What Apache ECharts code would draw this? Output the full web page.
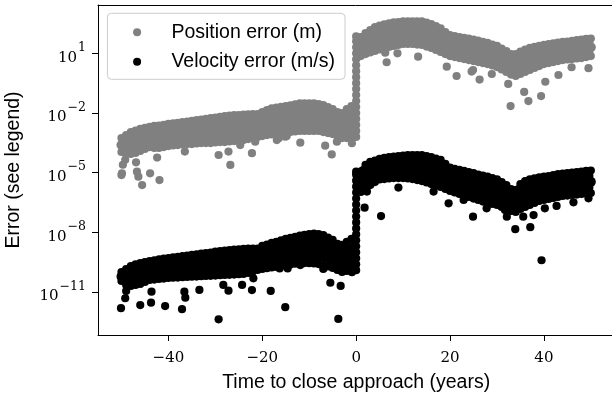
<!DOCTYPE html>
<html>
<head>
<meta charset="utf-8">
<script src="https://cdn.jsdelivr.net/npm/echarts@6.0.0/dist/echarts.min.js"></script>
<style>
html,body{margin:0;padding:0;background:#fff;}
#chart{width:612px;height:399px;}
</style>
</head>
<body>
<div id="chart"></div>
<script>
// Time sampling (years from close approach); values below are log10 of the error.
const tGrid = [], tGridMid = [];
for (let t = -50; t <= 50; t++) { if (t === 0) continue; tGrid.push(t); tGridMid.push(t < 0 ? t + 0.5 : t - 0.5); }

// Position error (m), log10, dense band layers (t = -50..-1, 1..50)
const posL0 = [-3.26,-3.11,-2.96,-2.88,-2.80,-2.75,-2.70,-2.65,-2.63,-2.59,-2.55,-2.52,-2.49,-2.46,-2.43,-2.40,-2.36,-2.33,-2.30,-2.26,-2.23,-2.19,-2.15,-2.13,-2.11,-2.10,-2.08,-2.07,-2.06,-2.05,-1.95,-1.85,-1.77,-1.73,-1.69,-1.65,-1.61,-1.56,-1.52,-1.51,-1.51,-1.52,-1.55,-1.60,-1.70,-1.80,-1.95,-2.00,-1.80,-1.65,
 1.82,2.02,2.17,2.32,2.39,2.45,2.50,2.55,2.57,2.60,2.60,2.61,2.60,2.60,2.54,2.47,2.37,2.25,2.07,1.92,1.87,1.82,1.78,1.74,1.69,1.64,1.58,1.52,1.44,1.37,1.24,1.11,0.96,0.96,1.09,1.18,1.27,1.32,1.37,1.42,1.46,1.50,1.54,1.57,1.59,1.62,1.66,1.69,1.72,1.74];
const posL1 = [-3.43,-3.35,-3.24,-3.16,-3.08,-3.02,-2.95,-2.93,-2.91,-2.87,-2.83,-2.80,-2.77,-2.74,-2.71,-2.69,-2.65,-2.63,-2.60,-2.57,-2.54,-2.51,-2.48,-2.46,-2.44,-2.42,-2.40,-2.38,-2.36,-2.34,-2.25,-2.17,-2.10,-2.06,-2.02,-1.98,-1.95,-1.90,-1.87,-1.86,-1.86,-1.87,-1.89,-1.94,-2.03,-2.12,-2.25,-2.32,-2.17,-2.04,
 1.58,1.76,1.89,2.02,2.09,2.15,2.20,2.25,2.28,2.32,2.32,2.32,2.31,2.30,2.24,2.17,2.07,1.95,1.79,1.66,1.61,1.56,1.51,1.47,1.42,1.37,1.31,1.26,1.18,1.11,0.98,0.85,0.70,0.69,0.81,0.90,0.99,1.06,1.12,1.18,1.22,1.27,1.31,1.34,1.37,1.39,1.43,1.46,1.49,1.52];
const posL2 = [-3.61,-3.59,-3.51,-3.45,-3.36,-3.28,-3.21,-3.21,-3.20,-3.15,-3.11,-3.08,-3.05,-3.02,-2.99,-2.98,-2.95,-2.92,-2.91,-2.89,-2.86,-2.82,-2.81,-2.78,-2.76,-2.74,-2.72,-2.69,-2.66,-2.63,-2.55,-2.48,-2.43,-2.40,-2.35,-2.32,-2.29,-2.25,-2.21,-2.20,-2.20,-2.21,-2.23,-2.28,-2.36,-2.43,-2.55,-2.63,-2.53,-2.43,
 1.34,1.49,1.60,1.72,1.79,1.86,1.91,1.96,2.00,2.03,2.03,2.04,2.02,2.01,1.94,1.87,1.77,1.66,1.52,1.39,1.34,1.29,1.25,1.20,1.15,1.10,1.05,0.99,0.92,0.84,0.72,0.59,0.45,0.41,0.53,0.62,0.72,0.79,0.87,0.94,0.99,1.03,1.08,1.12,1.14,1.17,1.20,1.23,1.27,1.30];
const posL3 = [-3.78,-3.82,-3.79,-3.73,-3.63,-3.55,-3.46,-3.48,-3.48,-3.43,-3.38,-3.35,-3.33,-3.30,-3.28,-3.27,-3.24,-3.22,-3.21,-3.20,-3.17,-3.14,-3.13,-3.11,-3.09,-3.06,-3.04,-3.00,-2.96,-2.92,-2.86,-2.80,-2.75,-2.73,-2.68,-2.65,-2.62,-2.59,-2.56,-2.55,-2.55,-2.56,-2.56,-2.62,-2.68,-2.75,-2.86,-2.95,-2.90,-2.82,
 1.10,1.23,1.32,1.42,1.49,1.56,1.61,1.66,1.71,1.75,1.75,1.75,1.73,1.71,1.64,1.57,1.47,1.36,1.24,1.13,1.08,1.03,0.98,0.93,0.88,0.83,0.78,0.73,0.65,0.58,0.45,0.32,0.19,0.14,0.24,0.34,0.44,0.53,0.61,0.70,0.75,0.80,0.84,0.89,0.92,0.94,0.97,0.99,1.04,1.08];
const posL4 = [-3.96,-4.06,-4.06,-4.01,-3.91,-3.81,-3.71,-3.76,-3.76,-3.71,-3.66,-3.63,-3.61,-3.58,-3.56,-3.56,-3.53,-3.51,-3.51,-3.51,-3.48,-3.46,-3.46,-3.43,-3.41,-3.38,-3.36,-3.31,-3.26,-3.21,-3.16,-3.11,-3.08,-3.06,-3.01,-2.98,-2.96,-2.93,-2.90,-2.90,-2.90,-2.90,-2.90,-2.96,-3.01,-3.06,-3.16,-3.26,-3.26,-3.21,
 0.86,0.96,1.04,1.12,1.19,1.27,1.32,1.37,1.42,1.47,1.47,1.47,1.44,1.42,1.34,1.27,1.17,1.07,0.96,0.86,0.81,0.76,0.71,0.66,0.61,0.56,0.51,0.46,0.39,0.31,0.19,0.06,-0.07,-0.14,-0.04,0.06,0.16,0.26,0.36,0.46,0.51,0.56,0.61,0.66,0.69,0.71,0.74,0.76,0.81,0.86];
// Position error at t = 0 (the jump)
const posWall = [-3.2,-2.9,-2.6,-2.3,-2.0,-1.7,-1.4,-1.1,-0.8,-0.5,-0.2,0.1,0.4,0.7,1.0,1.3,1.6,1.85];
// Position outliers
const posOutT = [-49.9,-46.7,-45.6,-43.9,-41.9,-46.9,-42.4,-29.3,-26.8,-27.2,-22.2,-11.9,-15.1,-16.9,-5.2,-6.6,-4.1,-0.9,6.5,6.2,8.8,13.2,21.4,26.3,28.9,24.9,32.4,32.9,35.8,36.7,39.4,40.3,43.1,49.5,-50.0,-46.4,-36.5,-24.7,-21.5,-16.5,-14.8,19.3,24.6,45.9,-49.7,-49.2];
const posOutE = [-5.03,-4.95,-5.62,-5.03,-5.37,-4.48,-4.24,-4.11,-4.61,-3.94,-4.02,-3.49,-3.19,-3.36,-4.08,-3.64,-3.44,-3.52,0.55,1.03,1.00,0.83,-0.14,-0.32,-0.04,0.16,-0.54,-1.65,-0.94,-1.40,-1.15,-0.43,-0.09,0.25,-5.12,-5.20,-3.94,-3.61,-3.44,-3.27,-3.16,0.33,0.08,0.30,-4.60,-4.35];

// Velocity error (m/s), log10, dense band layers
const velL0 = [-9.99,-9.84,-9.69,-9.61,-9.54,-9.49,-9.44,-9.40,-9.36,-9.32,-9.29,-9.26,-9.23,-9.19,-9.16,-9.13,-9.10,-9.07,-9.04,-9.01,-8.97,-8.94,-8.91,-8.89,-8.87,-8.85,-8.83,-8.82,-8.81,-8.81,-8.68,-8.61,-8.53,-8.47,-8.40,-8.33,-8.27,-8.22,-8.16,-8.12,-8.09,-8.06,-8.08,-8.13,-8.26,-8.38,-8.58,-8.63,-8.48,-8.33,
 -4.97,-4.61,-4.46,-4.39,-4.31,-4.26,-4.21,-4.19,-4.16,-4.14,-4.11,-4.11,-4.11,-4.11,-4.16,-4.21,-4.29,-4.36,-4.56,-4.74,-4.81,-4.86,-4.91,-4.97,-5.02,-5.09,-5.14,-5.19,-5.27,-5.34,-5.47,-5.62,-5.82,-5.87,-5.57,-5.42,-5.34,-5.29,-5.24,-5.19,-5.17,-5.12,-5.07,-5.04,-5.02,-4.99,-4.97,-4.94,-4.91,-4.89];
const velL1 = [-10.10,-10.04,-9.94,-9.87,-9.80,-9.74,-9.68,-9.64,-9.61,-9.57,-9.54,-9.51,-9.49,-9.46,-9.43,-9.41,-9.38,-9.35,-9.33,-9.30,-9.27,-9.24,-9.22,-9.20,-9.18,-9.16,-9.15,-9.13,-9.10,-9.08,-8.97,-8.91,-8.84,-8.79,-8.72,-8.66,-8.61,-8.56,-8.51,-8.48,-8.46,-8.44,-8.46,-8.51,-8.62,-8.73,-8.91,-8.97,-8.85,-8.72,
 -5.22,-4.91,-4.75,-4.66,-4.57,-4.53,-4.48,-4.46,-4.44,-4.42,-4.41,-4.41,-4.43,-4.44,-4.49,-4.55,-4.63,-4.70,-4.88,-5.04,-5.11,-5.16,-5.22,-5.28,-5.34,-5.41,-5.47,-5.52,-5.60,-5.66,-5.78,-5.92,-6.10,-6.15,-5.88,-5.75,-5.66,-5.60,-5.54,-5.49,-5.46,-5.41,-5.36,-5.32,-5.30,-5.27,-5.25,-5.22,-5.20,-5.17];
const velL2 = [-10.22,-10.24,-10.19,-10.13,-10.07,-9.99,-9.92,-9.89,-9.85,-9.82,-9.79,-9.77,-9.75,-9.72,-9.70,-9.68,-9.66,-9.64,-9.62,-9.60,-9.57,-9.55,-9.53,-9.51,-9.50,-9.48,-9.46,-9.43,-9.39,-9.35,-9.26,-9.20,-9.15,-9.11,-9.05,-8.99,-8.94,-8.90,-8.85,-8.83,-8.82,-8.81,-8.84,-8.89,-8.99,-9.09,-9.24,-9.31,-9.21,-9.11,
 -5.47,-5.22,-5.04,-4.93,-4.83,-4.79,-4.75,-4.73,-4.72,-4.71,-4.70,-4.72,-4.74,-4.77,-4.83,-4.89,-4.96,-5.04,-5.19,-5.33,-5.40,-5.47,-5.53,-5.60,-5.66,-5.73,-5.80,-5.86,-5.92,-5.98,-6.10,-6.22,-6.37,-6.42,-6.20,-6.07,-5.98,-5.91,-5.83,-5.78,-5.74,-5.69,-5.64,-5.61,-5.59,-5.56,-5.54,-5.51,-5.48,-5.46];
const velL3 = [-10.33,-10.44,-10.44,-10.38,-10.33,-10.24,-10.15,-10.13,-10.10,-10.07,-10.04,-10.02,-10.01,-9.99,-9.97,-9.96,-9.94,-9.92,-9.90,-9.89,-9.87,-9.85,-9.83,-9.82,-9.81,-9.79,-9.78,-9.74,-9.67,-9.62,-9.55,-9.50,-9.45,-9.42,-9.37,-9.32,-9.28,-9.23,-9.20,-9.19,-9.19,-9.19,-9.21,-9.26,-9.35,-9.44,-9.56,-9.65,-9.58,-9.50,
 -5.72,-5.52,-5.33,-5.20,-5.08,-5.06,-5.02,-5.00,-4.99,-4.99,-5.00,-5.02,-5.06,-5.09,-5.16,-5.23,-5.30,-5.38,-5.51,-5.63,-5.70,-5.77,-5.84,-5.91,-5.98,-6.05,-6.12,-6.19,-6.25,-6.30,-6.41,-6.52,-6.65,-6.70,-6.51,-6.40,-6.30,-6.21,-6.13,-6.08,-6.03,-5.98,-5.93,-5.89,-5.87,-5.84,-5.82,-5.79,-5.77,-5.74];
const velL4 = [-10.44,-10.64,-10.69,-10.64,-10.59,-10.49,-10.39,-10.37,-10.34,-10.32,-10.29,-10.28,-10.27,-10.25,-10.24,-10.23,-10.22,-10.20,-10.19,-10.18,-10.17,-10.15,-10.14,-10.13,-10.12,-10.10,-10.09,-10.04,-9.96,-9.89,-9.84,-9.80,-9.76,-9.74,-9.69,-9.65,-9.61,-9.57,-9.54,-9.54,-9.55,-9.56,-9.59,-9.64,-9.71,-9.79,-9.89,-9.99,-9.94,-9.89,
 -5.97,-5.82,-5.62,-5.47,-5.34,-5.32,-5.29,-5.27,-5.27,-5.27,-5.29,-5.32,-5.37,-5.42,-5.49,-5.57,-5.64,-5.72,-5.82,-5.92,-5.99,-6.07,-6.15,-6.22,-6.30,-6.37,-6.45,-6.52,-6.57,-6.62,-6.72,-6.82,-6.92,-6.97,-6.82,-6.72,-6.62,-6.52,-6.42,-6.37,-6.32,-6.27,-6.22,-6.17,-6.15,-6.12,-6.10,-6.07,-6.05,-6.02];
// Velocity error at t = 0 (the jump)
const velWall = [-9.9,-9.6,-9.3,-9.0,-8.7,-8.4,-8.1,-7.8,-7.5,-7.2,-6.9,-6.6,-6.3,-6.0,-5.7,-5.4,-5.1,-4.95];
// Velocity outliers
const velOutT = [-50.1,-49.2,-46.0,-43.7,-40.7,-37.1,-36.4,-33.4,-29.3,-28.3,-27.2,-24.3,-22.2,-18.2,-15.1,-16.3,-14.6,-3.8,-5.5,-3.3,-7.0,-0.9,1.8,5.3,39.5,24.9,33.9,37.1,37.8,9.0,16.5,19.7,42.7,46.3,49.5,32.1,-36.6,-43.6,-11.9,-21.9,2.3,22.9,-49.0,27.8,31.7,35.6,40.2];
const velOutE = [-11.81,-11.31,-11.65,-11.53,-11.70,-11.86,-11.28,-10.89,-12.37,-10.64,-10.93,-10.64,-10.90,-10.94,-11.76,-9.81,-9.81,-12.35,-10.53,-10.69,-9.84,-10.00,-6.76,-7.18,-9.40,-7.21,-7.84,-7.74,-7.13,-5.75,-5.95,-6.54,-6.67,-6.49,-6.29,-7.21,-10.98,-10.98,-9.64,-10.31,-5.95,-6.37,-10.95,-6.79,-6.87,-7.21,-6.79];

// Axis ticks
const xTicks = [-40, -20, 0, 20, 40];
const yTicks = [-11, -8, -5, -2, 1];

function pairs(xs, ys) { return ys.map((y, i) => [xs[i], y]); }
function buildSeries(L0, L1, L2, L3, L4, wall, outT, outE) {
  return [].concat(
    pairs(tGrid, L0), pairs(tGridMid, L1), pairs(tGrid, L2), pairs(tGridMid, L3), pairs(tGrid, L4),
    wall.map(v => [0, v]), pairs(outT, outE));
}
const posData = buildSeries(posL0, posL1, posL2, posL3, posL4, posWall, posOutT, posOutE);
const velData = buildSeries(velL0, velL1, velL2, velL3, velL4, velWall, velOutT, velOutE);
const nBand = tGrid.length;
// interior band layers drawn a bit larger so the dense band reads as solid
const markSize = (val, p) => (p.dataIndex >= nBand && p.dataIndex < 4 * nBand) ? 10 : 8.2;

const sans = 'Liberation Sans, Arial, Helvetica, sans-serif';
const serif = 'DejaVu Serif, Liberation Serif, serif';
const minus = v => (v < 0 ? '\u2212' + Math.abs(v) : String(v));

const chart = echarts.init(document.getElementById('chart'), null, {renderer: 'canvas'});
chart.setOption({
  animation: false,
  backgroundColor: '#fff',
  grid: {left: 98, top: 5, width: 516.3, height: 330, containLabel: false, outerBoundsMode: 'none'},
  legend: {
    orient: 'vertical', left: 107.4, top: 13.3,
    padding: [8, 10, 6.6, 25.7], itemGap: 7.4,
    itemWidth: 58.6, itemHeight: 8, icon: 'circle',
    borderColor: '#cccccc', borderWidth: 1, borderRadius: 4,
    backgroundColor: 'rgba(255,255,255,0.8)',
    textStyle: {fontFamily: sans, fontSize: 19.5, color: '#000', lineHeight: 22},
    data: ['Position error (m)', 'Velocity error (m/s)']
  },
  xAxis: [{
    type: 'value', min: -55, max: 55, position: 'bottom',
    name: 'Time to close approach (years)', nameLocation: 'middle', nameGap: 38,
    nameTextStyle: {fontFamily: sans, fontSize: 19.5, color: '#000'},
    axisLine: {show: true, onZero: false, lineStyle: {color: '#000', width: 1}},
    axisTick: {show: true, length: 6, customValues: xTicks, lineStyle: {color: '#000', width: 1}},
    axisLabel: {customValues: xTicks, formatter: minus, margin: 16, fontFamily: serif, fontSize: 15, color: '#000'},
    splitLine: {show: false}
  }, {
    type: 'value', min: -55, max: 55, position: 'top',
    axisLine: {show: true, onZero: false, lineStyle: {color: '#000', width: 1}},
    axisTick: {show: false}, axisLabel: {show: false}, splitLine: {show: false}
  }],
  yAxis: [{
    type: 'value', min: -13.156, max: 3.427,
    name: 'Error (see legend)', nameLocation: 'middle', nameGap: 74,
    nameTextStyle: {fontFamily: sans, fontSize: 19.5, color: '#000'},
    axisLine: {show: true, onZero: false, lineStyle: {color: '#000', width: 1}},
    axisTick: {show: true, length: 6, customValues: yTicks, lineStyle: {color: '#000', width: 1}},
    axisLabel: {
      customValues: yTicks, margin: 12,
      formatter: v => '{b|10}{s|' + minus(v) + '}',
      rich: {
        b: {fontFamily: serif, fontSize: 15, color: '#000', lineHeight: 24, verticalAlign: 'bottom'},
        s: {fontFamily: serif, fontSize: 12.5, color: '#000', lineHeight: 15, verticalAlign: 'top', padding: [0, 0, 0, 1]}
      }
    },
    splitLine: {show: false}
  }],
  series: [{
    name: 'Position error (m)', type: 'scatter', symbol: 'circle', symbolSize: markSize,
    itemStyle: {color: '#808080', opacity: 1}, progressive: 0, large: false, z: 2,
    data: posData
  }, {
    name: 'Velocity error (m/s)', type: 'scatter', symbol: 'circle', symbolSize: markSize,
    itemStyle: {color: '#000000', opacity: 1}, progressive: 0, large: false, z: 3,
    data: velData
  }]
});
</script>
</body>
</html>
